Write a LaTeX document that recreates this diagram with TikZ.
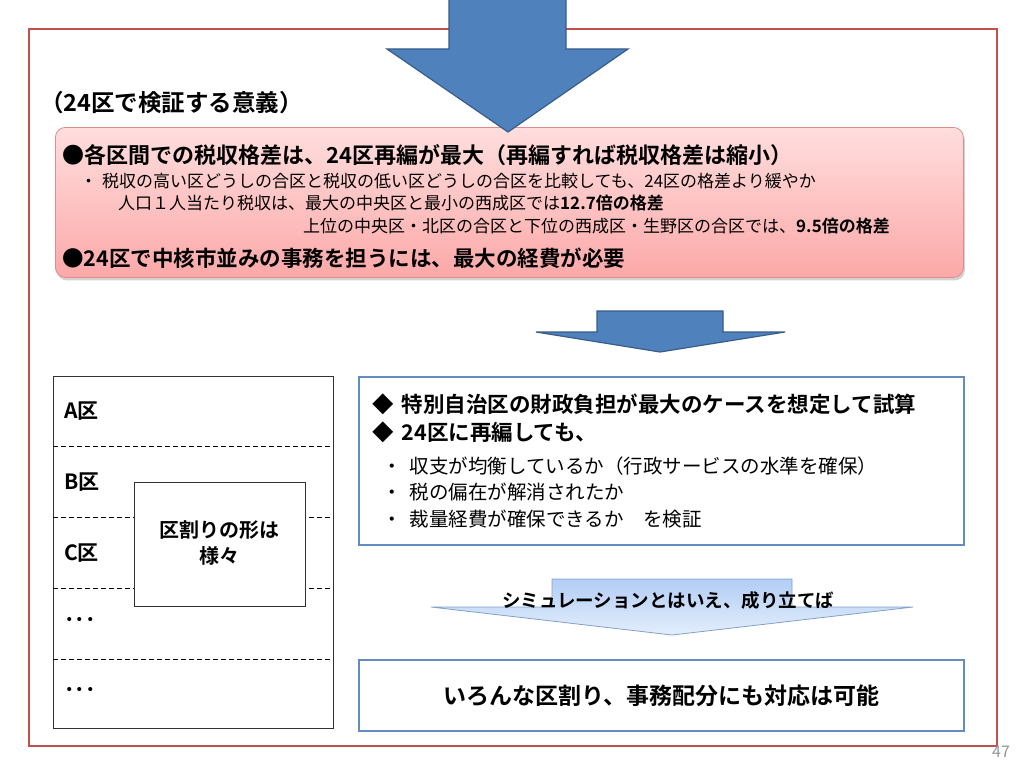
\documentclass[tikz,border=0pt]{standalone}
\usepackage{fontspec}
\setmainfont{Noto Sans CJK JP}[BoldFont={Noto Sans CJK JP Bold}]
\usetikzlibrary{shadows}
\definecolor{framered}{RGB}{192,80,77}
\definecolor{arrowblue}{RGB}{79,129,189}
\definecolor{arrowedge}{RGB}{56,93,138}
\definecolor{boxblue}{RGB}{100,140,195}
\definecolor{pinktop}{RGB}{255,222,222}
\definecolor{pinkbot}{RGB}{252,168,168}
\definecolor{pinkedge}{RGB}{222,140,140}
\definecolor{chevtop}{RGB}{178,205,245}
\definecolor{chevbot}{RGB}{228,238,252}
\definecolor{chevedge}{RGB}{130,160,205}
\definecolor{pagegray}{RGB}{150,150,150}
\tikzset{
  blockarrow/.style={fill=arrowblue, draw=arrowedge, line width=1.2pt, line join=miter},
  pinkbox/.style={draw=pinkedge, line width=0.8pt, rounded corners=10pt, top color=pinktop, bottom color=pinkbot,
    drop shadow={opacity=0.35, shadow xshift=1.5pt, shadow yshift=-3pt}, inner sep=0pt, anchor=north west},
  bluebox/.style={draw=boxblue, line width=1.8pt, fill=white, inner sep=0pt, anchor=north west,
    drop shadow={opacity=0.15, shadow xshift=1.5pt, shadow yshift=-1.5pt}},
  plainbox/.style={draw=black!80, line width=0.9pt, fill=white, inner sep=0pt, anchor=north west},
  divider/.style={dashed, line width=0.8pt, dash pattern=on 5pt off 3pt},
  txt/.style={inner sep=0pt, anchor=west},
  bigb/.style={font=\bfseries\fontsize{22}{26}\selectfont},
  smallr/.style={font=\fontsize{17}{20}\selectfont},
  rbold/.style={font=\bfseries\fontsize{21.5}{25}\selectfont},
  rreg/.style={font=\fontsize{19.5}{23}\selectfont},
  lbl/.style={font=\bfseries\fontsize{21}{25}\selectfont},
}
\begin{document}
\begin{tikzpicture}[x=1pt,y=-1pt]
\useasboundingbox (0,0) rectangle (1024,768);
\fill[white] (0,0) rectangle (1024,768);

% outer frame
\node[draw=framered, line width=2pt, minimum width=968pt, minimum height=717pt, inner sep=0pt, anchor=north west] (frame) at (28,28) {};

% title
\node[txt, font=\bfseries\fontsize{23.5}{27}\selectfont] (title) at (40,103) {（24区で検証する意義）};

% pink box
\node[pinkbox, minimum width=908pt, minimum height=150pt] (pink) at (55,127) {};
\node[txt, bigb] (p1) at (62,155) {●各区間での税収格差は、24区再編が最大（再編すれば税収格差は縮小）};
\node[txt, smallr] (p2) at (80,181) {・\hspace{5pt}税収の高い区どうしの合区と税収の低い区どうしの合区を比較しても、24区の格差より緩やか};
\node[txt, smallr] (p3) at (118,203) {人口１人当たり税収は、最大の中央区と最小の西成区では\textbf{12.7倍の格差}};
\node[txt, smallr] (p4) at (303,226) {上位の中央区・北区の合区と下位の西成区・生野区の合区では、\textbf{9.5倍の格差}};
\node[txt, font=\bfseries\fontsize{21.5}{26}\selectfont] (p5) at (62,258) {●24区で中核市並みの事務を担うには、最大の経費が必要};

% top block arrow
\draw[blockarrow] (449,-5) -- (566,-5) -- (566,49) -- (628,49) -- (508,132) -- (387,49) -- (449,49) -- cycle;

% small block arrow
\draw[blockarrow] (597,311) -- (723,311) -- (723,332) -- (785,332) -- (660,352) -- (536,332) -- (597,332) -- cycle;

% left box with districts
\node[plainbox, minimum width=280pt, minimum height=352pt] (lbox) at (53,376) {};
\foreach \yy in {446,517,588,659} \draw[divider] (53,\yy) -- (333,\yy);
\node[plainbox, minimum width=171pt, minimum height=124pt] (shapes) at (134,482) {};
\node[align=center, font=\bfseries\fontsize{20}{26}\selectfont, inner sep=0pt] (shapestxt) at (219,543) {区割りの形は\\様々};
\node[txt, lbl] (a) at (64,411) {A区};
\node[txt, lbl] (b) at (64,482) {B区};
\node[txt, lbl] (c) at (64,553) {C区};
\node[txt, lbl] (d1) at (64,622) {･･･};
\node[txt, lbl] (d2) at (64,692) {･･･};

% right box 1
\node[bluebox, minimum width=605pt, minimum height=168pt] (rb1) at (358,376) {};
\node[txt, rbold] (r1) at (372,404) {◆\hspace{8pt}特別自治区の財政負担が最大のケースを想定して試算};
\node[txt, rbold] (r2) at (372,432) {◆\hspace{8pt}24区に再編しても、};
\node[txt, rreg] (r3) at (382,466) {・\hspace{8pt}収支が均衡しているか（行政サービスの水準を確保）};
\node[txt, rreg] (r4) at (382,492) {・\hspace{8pt}税の偏在が解消されたか};
\node[txt, rreg] (r5) at (382,519) {・\hspace{8pt}裁量経費が確保できるか　を検証};

% chevron
\shade[top color=chevtop, bottom color=chevbot, draw=chevedge, line width=0.8pt]
  (552,579) -- (792,579) -- (792,607) -- (913,607) -- (672,635) -- (431,607) -- (552,607) -- cycle;
\node[font=\bfseries\fontsize{18.5}{22}\selectfont, inner sep=0pt] (chevtxt) at (668,600) {シミュレーションとはいえ、成り立てば};

% right box 2
\node[bluebox, minimum width=605pt, minimum height=71pt, font=\bfseries\fontsize{23}{27}\selectfont] (rb2) at (358,659) {いろんな区割り、事務配分にも対応は可能};

% page number
\node[font=\fontsize{16}{18}\selectfont, text=pagegray, inner sep=0pt] (page) at (1001,752) {47};
\end{tikzpicture}
\end{document}
